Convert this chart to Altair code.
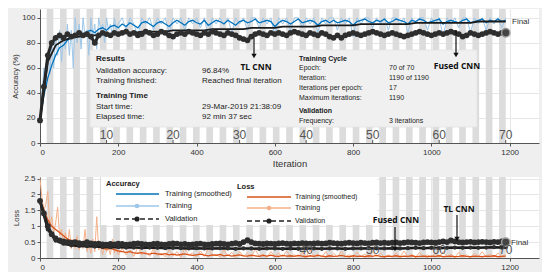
import altair as alt
import pandas as pd

# ---------------- values ----------------
raw_iter = list(range(0, 201, 5)) + list(range(210, 1191, 10))
acc_raw = [18, 40, 60, 45, 70, 55, 80, 60, 85, 70,
           90, 65, 85, 75, 95, 70, 90, 60, 100, 80,
           95, 75, 100, 85, 90, 70, 100, 85, 95, 75,
           100, 90, 95, 80, 100, 90, 95, 85, 100, 90,
           95] + [
           100, 90, 100, 95, 85, 100, 95, 100, 90, 100,
           95, 100, 88, 100, 95, 100, 90, 100, 95, 100,
           92, 100, 85, 100, 95, 100, 95, 100, 88, 100,
           95, 100, 90, 100, 100, 92, 100, 95, 100, 85,
           100, 95, 100, 90, 100, 100, 92, 100, 95, 100,
           88, 100, 95, 100, 100, 90, 100, 95, 100, 85,
           100, 95, 100, 100, 92, 100, 95, 100, 90, 100,
           100, 95, 100, 88, 100, 95, 100, 100, 90, 100,
           95, 100, 85, 100, 95, 100, 92, 100, 100, 88,
           100, 95, 100, 90, 100, 95, 100, 92, 100]
loss_raw = [2.5, 1.9, 1.5, 1.7, 2.1, 1.0, 1.3, 0.8, 1.1, 1.6,
            0.7, 0.9, 0.5, 0.8, 0.4, 0.9, 0.3, 0.6, 0.3, 0.7,
            0.25, 0.5, 0.3, 0.9, 0.2, 0.4, 0.15, 0.6, 0.2, 1.3,
            0.25, 0.4, 0.1, 0.5, 0.2, 0.3, 0.1, 0.6, 0.15, 0.3,
            0.1] + [
            0.3, 0.1, 0.25, 0.05, 0.35, 0.1, 0.2, 0.05, 0.3, 0.08,
            0.15, 0.04, 0.25, 0.06, 0.2, 0.03, 0.3, 0.1, 0.15, 0.04,
            0.22, 0.05, 0.3, 0.08, 0.12, 0.03, 0.25, 0.06, 0.18, 0.02,
            0.2, 0.05, 0.15, 0.03, 0.28, 0.06, 0.12, 0.02, 0.2, 0.05,
            0.15, 0.03, 0.22, 0.06, 0.1, 0.02, 0.18, 0.04, 0.25, 0.05,
            0.12, 0.02, 0.2, 0.04, 0.15, 0.03, 0.22, 0.05, 0.1, 0.02,
            0.18, 0.04, 0.12, 0.02, 0.2, 0.05, 0.15, 0.03, 0.1, 0.02,
            0.16, 0.04, 0.22, 0.03, 0.12, 0.02, 0.18, 0.05, 0.1, 0.02,
            0.15, 0.03, 0.2, 0.04, 0.12, 0.02, 0.18, 0.03, 0.1,
            0.02, 0.15, 0.04, 0.2, 0.03, 0.12, 0.02, 0.16, 0.05, 0.1]

step_iter = list(range(0, 1191, 10))
acc_smooth = [18, 38, 52, 62, 70, 76, 78, 82, 84, 86,
              88, 87, 89, 90, 88, 91, 92, 90, 93, 94,
              92, 95, 93, 96, 94, 92, 96, 97, 95, 93,
              96, 97, 95, 93, 96, 98, 96, 94, 97, 98,
              96, 95, 98, 94, 96, 98, 97, 95, 98, 96,
              94, 97, 98, 96, 97, 99, 96, 97, 98, 97,
              93, 96, 98, 97, 95, 97, 99, 96, 97, 98,
              97, 94, 97, 98, 96, 98, 96, 97, 98, 97,
              94, 97, 98, 99, 97, 96, 98, 97, 99, 96,
              97, 99, 98, 97, 95, 98, 97, 99, 98, 96,
              97, 98, 99, 95, 97, 98, 97, 96, 98, 99,
              96, 97, 98, 99, 96, 98, 97, 99, 97, 98]
acc_val_fused = [18, 45, 70, 80, 84, 86, 84, 87, 85, 86,
                 88, 86, 87, 85, 80, 86, 88, 87, 86, 88,
                 87, 88, 89, 87, 88, 86, 87, 89, 88, 86,
                 87, 89, 88, 86, 85, 87, 88, 87, 89, 88,
                 87, 86, 88, 87, 89, 88, 87, 86, 88, 87,
                 86, 84, 83, 82, 85, 87, 88, 87, 86, 88,
                 87, 88, 87, 86, 88, 89, 88, 87, 86, 88,
                 87, 86, 88, 87, 85, 84, 86, 84, 86, 87,
                 88, 87, 86, 87, 88, 89, 88, 87, 86, 87,
                 88, 87, 86, 85, 86, 87, 88, 89, 88, 87,
                 86, 87, 88, 87, 88, 89, 88, 87, 85, 86,
                 88, 87, 86, 87, 88, 89, 88, 87, 88, 88]
loss_smooth = [1.8, 1.5, 1.2, 1.0, 0.9, 0.8, 0.7, 0.6, 0.55, 0.5,
               0.45, 0.42, 0.4, 0.38, 0.42, 0.36, 0.3, 0.28, 0.3, 0.26,
               0.22, 0.2, 0.18, 0.2, 0.16, 0.15, 0.17, 0.14, 0.12, 0.15,
               0.13, 0.11, 0.14, 0.1, 0.12, 0.09, 0.11, 0.13, 0.1, 0.08,
               0.1, 0.12, 0.09, 0.07, 0.1, 0.08, 0.11, 0.07, 0.09, 0.06,
               0.08, 0.1, 0.07, 0.06, 0.09, 0.07, 0.05, 0.08, 0.06, 0.09,
               0.06, 0.05, 0.08, 0.06, 0.07, 0.05, 0.08, 0.06, 0.04, 0.07,
               0.05, 0.08, 0.06, 0.04, 0.07, 0.05, 0.06, 0.08, 0.05, 0.04,
               0.07, 0.05, 0.06, 0.04, 0.07, 0.05, 0.08, 0.05, 0.04, 0.06,
               0.05, 0.07, 0.04, 0.06, 0.05, 0.07, 0.04, 0.05, 0.06, 0.04,
               0.06, 0.05, 0.07, 0.04, 0.05, 0.06, 0.04, 0.05, 0.07, 0.05,
               0.04, 0.06, 0.05, 0.04, 0.06, 0.05, 0.07, 0.04, 0.05, 0.06]
loss_val_fused = [1.8, 1.4, 1.0, 0.75, 0.62, 0.55, 0.52, 0.5, 0.48, 0.5,
                  0.47, 0.45, 0.5, 0.46, 0.44, 0.45, 0.43, 0.42, 0.44, 0.43,
                  0.45, 0.44, 0.42, 0.43, 0.45, 0.46, 0.44, 0.43, 0.42, 0.44,
                  0.45, 0.43, 0.42, 0.44, 0.46, 0.45, 0.43, 0.44, 0.42, 0.43,
                  0.44, 0.45, 0.43, 0.42, 0.44, 0.45, 0.46, 0.44, 0.43, 0.45,
                  0.47, 0.44, 0.5, 0.56, 0.5, 0.46, 0.45, 0.44, 0.46, 0.45,
                  0.44, 0.46, 0.47, 0.45, 0.44, 0.46, 0.45, 0.47, 0.46, 0.45,
                  0.46, 0.47, 0.45, 0.46, 0.48, 0.47, 0.46, 0.45, 0.47, 0.48,
                  0.47, 0.46, 0.48, 0.47, 0.46, 0.48, 0.49, 0.47, 0.48, 0.47,
                  0.48, 0.49, 0.47, 0.48, 0.5, 0.49, 0.48, 0.47, 0.49, 0.5,
                  0.49, 0.48, 0.5, 0.52, 0.5, 0.55, 0.52, 0.5, 0.49, 0.5,
                  0.51, 0.49, 0.5, 0.51, 0.5, 0.49, 0.51, 0.5, 0.52, 0.5]

thin_iter = list(range(0, 1181, 20)) + [1190]
acc_val_tl = [18, 65, 78, 82, 84, 85, 86, 86, 87, 87,
              88, 88, 88, 89, 89, 89, 89, 90, 90, 90,
              90, 90, 91, 91, 91, 91, 91, 92, 92, 92,
              92, 93, 93, 93, 93, 93, 94, 94, 94, 94,
              94, 95, 95, 95, 95, 95, 95, 95, 96, 96,
              96, 96, 96, 96, 96, 96, 97, 97, 97, 97, 97]
loss_val_tl = [1.8, 0.9, 0.55, 0.45, 0.4, 0.38, 0.37, 0.36, 0.35, 0.34,
               0.34, 0.33, 0.33, 0.32, 0.33, 0.32, 0.31, 0.32, 0.31, 0.3,
               0.31, 0.3, 0.3, 0.31, 0.3, 0.29, 0.3, 0.3, 0.29, 0.3,
               0.3, 0.29, 0.3, 0.29, 0.3, 0.3, 0.29, 0.3, 0.3, 0.29,
               0.3, 0.3, 0.31, 0.3, 0.3, 0.31, 0.3, 0.31, 0.32, 0.31,
               0.32, 0.31, 0.32, 0.33, 0.32, 0.33, 0.32, 0.33, 0.34, 0.33, 0.34]

epoch_labels = [10, 20, 30, 40, 50, 60, 70]
shaded_epochs = list(range(2, 71, 2))
iters_per_epoch = 17
x_ticks = [0, 200, 400, 600, 800, 1000, 1200]
acc_ticks = [0, 20, 40, 60, 80, 100]
loss_ticks = [0, 0.5, 1, 1.5, 2, 2.5]

# ---------------- layout ----------------
FONT = "Liberation Sans"
AFONT = "Open Sans"
W, H1, H2 = 499, 134, 81
OX, OY1, OY2 = 41, 9, 176
XMAX = 1275

ONE = pd.DataFrame({"k": [0]})
df_raw = pd.DataFrame({"it": raw_iter, "acc": acc_raw, "loss": loss_raw})
df_step = pd.DataFrame({"it": step_iter, "acc_s": acc_smooth, "acc_v": acc_val_fused,
                        "loss_s": loss_smooth, "loss_v": loss_val_fused})
df_thin = pd.DataFrame({"it": thin_iter, "acc_t": acc_val_tl, "loss_t": loss_val_tl})
df_stripes = pd.DataFrame({"s": [(e - 1) * iters_per_epoch for e in shaded_epochs],
                           "e": [e * iters_per_epoch for e in shaded_epochs]})
df_ep = pd.DataFrame({"it": [e * iters_per_epoch for e in epoch_labels],
                      "lab": [str(e) for e in epoch_labels]})
df_final = df_step.tail(1)

xs = alt.Scale(domain=[0, XMAX], nice=False, zero=False)
XAX_TOP = alt.Axis(values=x_ticks, format="d", title="Iteration", titleFontSize=9.5,
                   titleFontWeight="normal", grid=True, titlePadding=2)
XAX_BOT = alt.Axis(values=x_ticks, format="d", title=None, grid=True)
ys1 = alt.Scale(domain=[0, 107], nice=False, zero=False)
ys2 = alt.Scale(domain=[0, 2.55], nice=False, zero=False)
YAX1 = alt.Axis(values=acc_ticks, title="Accuracy (%)", titleFontSize=7.5, titleFontWeight="normal",
                titleX=-21, titleY=H1 / 2, grid=True)
YAX2 = alt.Axis(values=loss_ticks, title="Loss", titleFontSize=7.5, titleFontWeight="normal",
                titleX=-20, titleY=H2 / 2, grid=True, format="~g")


def X(field, top=True):
    return alt.X(field, type="quantitative", scale=xs, axis=XAX_TOP if top else XAX_BOT)


def Y(field, top=True):
    return alt.Y(field, type="quantitative", scale=ys1 if top else ys2, axis=YAX1 if top else YAX2)


def txt(s, x, y, oy, size=8, bold=False, align="left", color="#222", font=FONT):
    return alt.Chart(ONE).mark_text(text=s, fontSize=size, font=font,
                                    fontWeight="bold" if bold else "normal",
                                    align=align, baseline="middle", color=color).encode(
        x=alt.value(x - OX), y=alt.value(y - oy))


def seg(x1, y1, x2, y2, oy, color="#111", width=1.0, dash=None):
    kw = {"color": color, "strokeWidth": width}
    if dash:
        kw["strokeDash"] = dash
    return alt.Chart(ONE).mark_rule(**kw).encode(
        x=alt.value(x1 - OX), y=alt.value(y1 - oy), x2=alt.value(x2 - OX), y2=alt.value(y2 - oy))


def dot(x, y, oy, color, size=20, shape="circle"):
    return alt.Chart(ONE).mark_point(filled=True, color=color, size=size, shape=shape, opacity=1).encode(
        x=alt.value(x - OX), y=alt.value(y - oy))


def box(x1, y1, x2, y2, oy, fill, stroke=None):
    kw = {"color": fill}
    if stroke:
        kw.update(stroke=stroke, strokeWidth=0.8)
    return alt.Chart(ONE).mark_rect(**kw).encode(
        x=alt.value(x1 - OX), y=alt.value(y1 - oy), x2=alt.value(x2 - OX), y2=alt.value(y2 - oy))


def arrow(x, y1, y2, oy):
    return [seg(x, y1, x, y2, oy, color="#111", width=1.2),
            dot(x, y2 + 1, oy, "#111", size=28, shape="triangle-down")]


STRIPE = "#dcdcdc"

# ---------------- top panel ----------------
top_layers = [
    alt.Chart(df_stripes).mark_rect(color=STRIPE).encode(
        x=X("s:Q"), x2="e:Q", y=alt.value(0), y2=alt.value(H1)),
    alt.Chart(df_raw).mark_line(color="#9dc6e8", strokeWidth=1).encode(x=X("it"), y=Y("acc")),
    alt.Chart(df_step).mark_line(color="#0072bd", strokeWidth=1.3).encode(x=X("it"), y=Y("acc_s")),
    alt.Chart(df_thin).mark_line(color="#1a1a1a", strokeWidth=1.8).encode(x=X("it"), y=Y("acc_t")),
    alt.Chart(df_step).mark_line(color="#262626", strokeWidth=3).encode(x=X("it"), y=Y("acc_v")),
    alt.Chart(df_step).mark_circle(color="#2e2e2e", size=34, opacity=1).encode(x=X("it"), y=Y("acc_v")),
    alt.Chart(df_final).mark_point(filled=True, fill="#444", stroke="#9a9a9a", strokeWidth=1.5,
                                   size=70, opacity=1).encode(x=X("it"), y=Y("acc_v")),
    box(91, 50, 478, 127, OY1, "#f0f0f0", stroke="#e2e2e2"),
    alt.Chart(df_ep).mark_text(fontSize=12, font=FONT, color="#555", baseline="middle").encode(
        x=X("it"), y=alt.value(H1 - 8), text="lab:N"),
    alt.Chart(df_ep).mark_rule(color="#555").encode(x=X("it"), y=alt.value(H1 - 3), y2=alt.value(H1)),
    txt("Final", 513, 22, OY1, size=8, color="#333"),
]
info = [
    ("Results", 97, 59, True, 8), ("Validation accuracy:", 97, 71, False, 8),
    ("Training finished:", 97, 81, False, 8), ("Training Time", 97, 96, True, 8),
    ("Start time:", 97, 107, False, 8), ("Elapsed time:", 97, 117, False, 8),
    ("96.84%", 203, 71, False, 8), ("Reached final iteration", 203, 81, False, 8),
    ("29-Mar-2019 21:38:09", 203, 107, False, 8), ("92 min 37 sec", 203, 117, False, 8),
    ("Training Cycle", 300, 59, True, 7), ("Epoch:", 300, 68, False, 7),
    ("Iteration:", 300, 78, False, 7), ("Iterations per epoch:", 300, 88, False, 7),
    ("Maximum iterations:", 300, 98, False, 7), ("Validation", 300, 111, True, 7),
    ("Frequency:", 300, 121, False, 7),
    ("70 of 70", 390, 68, False, 7), ("1190 of 1190", 390, 78, False, 7),
    ("17", 390, 88, False, 7), ("1190", 390, 98, False, 7), ("3 iterations", 390, 121, False, 7),
]
for s, x, y, b, fs in info:
    top_layers.append(txt(s, x, y, OY1, size=fs, bold=b, color="#222"))
top_layers += arrow(255, 37, 55, OY1)
top_layers += arrow(457, 30, 54, OY1)
top_layers.append(txt("TL CNN", 257, 67, OY1, size=8.5, bold=True, align="center", color="#111", font=AFONT))
top_layers.append(txt("Fused CNN", 458, 66, OY1, size=8.5, bold=True, align="center", color="#111", font=AFONT))

top = alt.layer(*top_layers).properties(width=W, height=H1)

# ---------------- bottom panel ----------------
bot_layers = [
    alt.Chart(df_stripes).mark_rect(color=STRIPE).encode(
        x=X("s:Q", False), x2="e:Q", y=alt.value(0), y2=alt.value(H2)),
    box(102, 176, 378, 224, OY2, "white"),
    alt.Chart(df_raw).mark_line(color="#f4b08a", strokeWidth=1).encode(x=X("it", False), y=Y("loss", False)),
    alt.Chart(df_step).mark_line(color="#d95319", strokeWidth=1.3).encode(x=X("it", False), y=Y("loss_s", False)),
    alt.Chart(df_thin).mark_line(color="#1a1a1a", strokeWidth=2.5).encode(x=X("it", False), y=Y("loss_t", False)),
    alt.Chart(df_thin).mark_circle(color="#2e2e2e", size=18, opacity=1).encode(x=X("it", False), y=Y("loss_t", False)),
    alt.Chart(df_step).mark_line(color="#262626", strokeWidth=3).encode(x=X("it", False), y=Y("loss_v", False)),
    alt.Chart(df_step).mark_circle(color="#2e2e2e", size=34, opacity=1).encode(x=X("it", False), y=Y("loss_v", False)),
    alt.Chart(df_final).mark_point(filled=True, fill="#444", stroke="#9a9a9a", strokeWidth=1.5,
                                   size=70, opacity=1).encode(x=X("it", False), y=Y("loss_v", False)),
    alt.Chart(df_ep.iloc[3:]).mark_text(fontSize=12, font=FONT, color="#555", baseline="middle").encode(
        x=X("it", False), y=alt.value(H2 - 8), text="lab:N"),
    txt("Final", 512, 242, OY2, size=8, color="#333"),
    # legend
    txt("Accuracy", 107, 183, OY2, size=7.5, bold=True),
    seg(117, 193, 160, 193, OY2, color="#0072bd", width=1.5),
    txt("Training (smoothed)", 166, 193, OY2, size=7.5),
    seg(117, 205, 160, 205, OY2, color="#9dc6e8", width=1.5),
    dot(138, 205, OY2, "#9dc6e8", size=22),
    txt("Training", 166, 205, OY2, size=7.5),
    seg(117, 218, 160, 218, OY2, color="#222", width=1.3, dash=[5, 3]),
    dot(138, 218, OY2, "#222", size=26),
    txt("Validation", 166, 218, OY2, size=7.5),
    txt("Loss", 238, 186, OY2, size=7.5, bold=True),
    seg(248, 196, 292, 196, OY2, color="#d95319", width=1.5),
    txt("Training (smoothed)", 296, 196, OY2, size=7),
    seg(248, 207, 292, 207, OY2, color="#f4b08a", width=1.5),
    dot(270, 207, OY2, "#f4b08a", size=22),
    txt("Training", 296, 207, OY2, size=7),
    seg(248, 220, 292, 220, OY2, color="#222", width=1.3, dash=[5, 3]),
    dot(270, 220, OY2, "#222", size=26),
    txt("Validation", 296, 220, OY2, size=7),
]
bot_layers += arrow(396, 226, 247, OY2)
bot_layers += arrow(458, 214, 237, OY2)
bot_layers.append(txt("Fused CNN", 397, 219, OY2, size=8.5, bold=True, align="center", color="#111", font=AFONT))
bot_layers.append(txt("TL CNN", 460, 208, OY2, size=8.5, bold=True, align="center", color="#111", font=AFONT))

bottom = alt.layer(*bot_layers).properties(width=W, height=H2)

chart = alt.vconcat(top, bottom, spacing=6).properties(
    background="#efefef",
    padding={"left": 3, "top": 1, "right": 3, "bottom": 1},
).configure_view(stroke=None, fill="white").configure_axis(
    labelFont=FONT, titleFont=FONT, labelFontSize=8, labelColor="#333", titleColor="#333",
    domainColor="#555", tickColor="#555", gridColor="#e6e6e6", tickSize=3, labelPadding=2,
)

chart.save("out.html", embed_options={"renderer": "svg", "actions": False})
